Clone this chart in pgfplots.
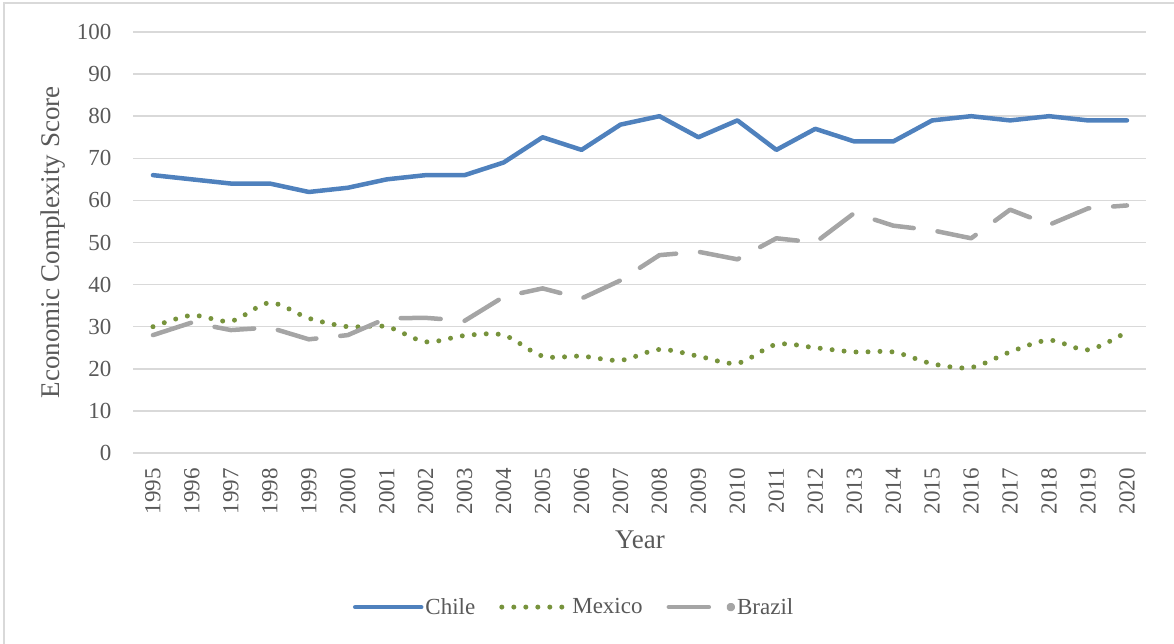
\documentclass[border=0pt]{standalone}
\usepackage{pgfplots}
\pgfplotsset{compat=1.18}
\usepackage{fontspec}
\setmainfont{Liberation Serif}

\definecolor{chileblue}{HTML}{4F81BD}
\definecolor{mexgreen}{HTML}{77933C}
\definecolor{brazgray}{HTML}{A5A5A5}
\definecolor{gridgray}{HTML}{D9D9D9}
\definecolor{textgray}{HTML}{595959}

\newcommand{\chartfont}{\rmfamily\fontsize{23}{27}\selectfont}
\newcommand{\titlefont}{\rmfamily\fontsize{27}{32}\selectfont}

\begin{document}
\begin{tikzpicture}[x=1pt,y=1pt]
\useasboundingbox (-133.5,-191) rectangle (1040.5,453);
% chart area frame (top and left edges)
\draw[gridgray, line width=1.5pt] (-129.5,-191) -- (-129.5,450) -- (1040.5,450);
\begin{axis}[
  scale only axis,
  width=1013pt, height=421pt,
  xmin=1994.5, xmax=2020.5,
  ymin=0, ymax=100,
  xtick={1995,1996,...,2020},
  ytick={0,10,...,100},
  /pgf/number format/1000 sep={},
  /pgf/number format/assume math mode=true,
  axis line style={draw=none},
  major tick length=0pt,
  ymajorgrids,
  grid style={gridgray, line width=1.5pt},
  tick label style={font=\chartfont, text=textgray, inner sep=0pt},
  xticklabel style={rotate=90, anchor=east},
  xticklabel shift=15pt,
  yticklabel shift=22pt,
  xlabel={Year},
  ylabel={Economic Complexity Score},
  every axis x label/.style={at={(axis description cs:0.5,-0.207)}, anchor=center,
    font=\titlefont, text=textgray},
  every axis y label/.style={at={(axis description cs:-0.079,0.5)}, rotate=90, anchor=center,
    font=\titlefont, text=textgray},
  legend columns=3,
  legend style={at={(axis description cs:0.435,-0.366)}, anchor=center, draw=none,
    font=\chartfont, text=textgray,
    nodes={inner sep=2pt, font=\chartfont, text=textgray},
    /tikz/every even column/.append style={column sep=22pt}},
  legend cell align=left,
  legend image code/.code={\draw[#1] (0pt,0pt) -- (66pt,0pt);},
]
% Chile
\addplot[chileblue, line width=4.5pt, line cap=round, line join=round] coordinates {
(1995,66) (1996,65) (1997,64) (1998,64) (1999,62) (2000,63) (2001,65) (2002,66)
(2003,66) (2004,69) (2005,75) (2006,72) (2007,78) (2008,80) (2009,75) (2010,79)
(2011,72) (2012,77) (2013,74) (2014,74) (2015,79) (2016,80) (2017,79) (2018,80)
(2019,79) (2020,79)};
\addlegendentry{Chile}
% Mexico
\addplot[mexgreen, smooth, line width=5pt, line cap=round, dash pattern=on 0pt off 12pt] coordinates {
(1995,30) (1996,32.7) (1997,31.3) (1998,35.7) (1999,32) (2000,30) (2001,30) (2002,26.4)
(2003,27.9) (2004,28) (2005,23) (2006,23) (2007,22) (2008,24.6) (2009,23) (2010,21.3)
(2011,25.8) (2012,25) (2013,24) (2014,24) (2015,21.2) (2016,20.3) (2017,24) (2018,26.8)
(2019,24.5) (2020,28.8)};
\addlegendentry{Mexico}
% Brazil
\addplot[brazgray, line width=4.5pt, line cap=round, line join=round, dash pattern=on 40pt off 24pt,
  legend image code/.code={\draw[brazgray, line width=4.5pt, line cap=round] (2pt,0pt) -- (43pt,0pt);
    \fill[brazgray] (64pt,0pt) circle (2pt);}] coordinates {
(1995,28) (1996,31) (1997,29.2) (1998,29.8) (1999,27) (2000,28) (2001,32) (2002,32.1)
(2003,31.4) (2004,37.1) (2005,39.1) (2006,36.7) (2007,41) (2008,47) (2009,47.8) (2010,46)
(2011,51) (2012,50) (2013,57) (2014,54) (2015,52.9) (2016,51) (2017,57.8) (2018,54.2)
(2019,58.1) (2020,58.8)};
\addlegendentry{Brazil}
\end{axis}
\end{tikzpicture}
\end{document}
